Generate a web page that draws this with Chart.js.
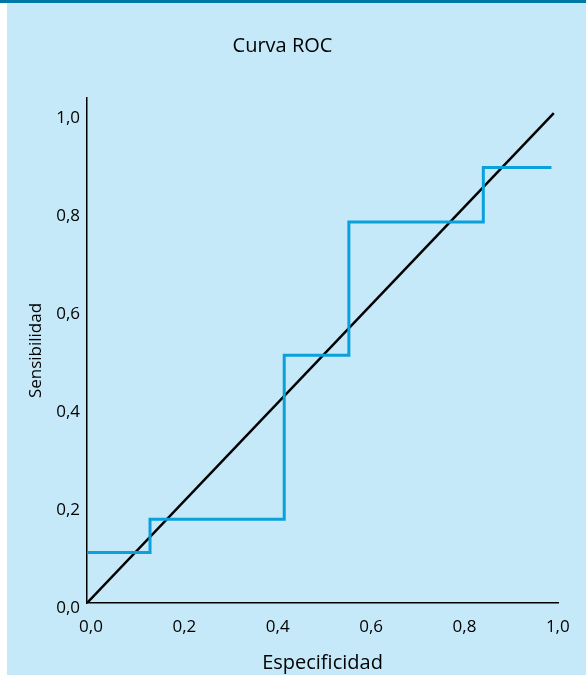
<!DOCTYPE html>
<html>
<head>
<meta charset="utf-8">
<style>
  html, body { margin: 0; padding: 0; background: #ffffff; }
  #wrap { width: 586px; height: 675px; position: relative; }
</style>
<script src="https://cdn.jsdelivr.net/npm/chart.js@4/dist/chart.umd.min.js"></script>
</head>
<body>
<div id="wrap"><canvas id="c" width="586" height="675"></canvas></div>
<script>
// ---- data ----
const rocX = [0, 0.135, 0.4225, 0.561, 0.849, 0.995];
const rocY = [0.103, 0.171, 0.506, 0.778, 0.889, 0.889];
const diagX = [0, 1];
const diagY = [0, 1];
const tickValues = [0, 0.2, 0.4, 0.6, 0.8, 1.0];
const tickLabels = ['0,0', '0,2', '0,4', '0,6', '0,8', '1,0'];
const chartTitle = 'Curva ROC';
const xTitle = 'Especificidad';
const yTitle = 'Sensibilidad';

const bgPlugin = {
  id: 'bg',
  beforeDraw(chart) {
    const ctx = chart.ctx;
    ctx.save();
    ctx.fillStyle = '#ffffff';
    ctx.fillRect(0, 0, chart.width, chart.height);
    ctx.fillStyle = '#c6e9f9';
    ctx.fillRect(7, 0, chart.width - 7, chart.height);
    ctx.fillStyle = '#0078a6';
    ctx.fillRect(0, 0, chart.width, 3);
    ctx.restore();
  }
};

const fam = "'Open Sans', 'DejaVu Sans', sans-serif";
const tickFont = { family: fam, size: 17 };

new Chart(document.getElementById('c'), {
  type: 'scatter',
  data: {
    datasets: [
      {
        data: rocX.map((x, i) => ({ x: x, y: rocY[i] })),
        showLine: true,
        stepped: 'before',
        borderColor: '#0aa0dc',
        borderWidth: 3,
        pointRadius: 0,
        fill: false
      },
      {
        data: diagX.map((x, i) => ({ x: x, y: diagY[i] })),
        showLine: true,
        borderColor: '#000000',
        borderWidth: 2.5,
        pointRadius: 0,
        fill: false
      }
    ]
  },
  options: {
    responsive: false,
    animation: false,
    events: [],
    layout: { padding: { left: 7, right: 28, top: 0, bottom: 0 } },
    plugins: {
      legend: { display: false },
      tooltip: { enabled: false },
      title: {
        display: true,
        text: chartTitle,
        color: '#000000',
        font: { family: fam, size: 20, weight: 'normal' },
        padding: { top: 34, bottom: 40 }
      }
    },
    scales: {
      x: {
        type: 'linear',
        min: 0,
        max: 1.009,
        afterBuildTicks(scale) { scale.ticks = tickValues.map(v => ({ value: v })); },
        afterFit(scale) { scale.height = 72; },
        grid: { display: false, drawTicks: false },
        border: { display: true, color: '#000000', width: 1.5 },
        ticks: {
          color: '#000000',
          font: tickFont,
          padding: 14,
          labelOffset: 4,
          maxRotation: 0,
          autoSkip: false,
          callback: (v) => { const i = tickValues.findIndex(t => Math.abs(t - v) < 1e-6); return i >= 0 ? tickLabels[i] : ''; }
        },
        title: {
          display: true,
          text: xTitle,
          color: '#000000',
          font: { family: fam, size: 20 },
          padding: { top: 0, bottom: 0 }
        }
      },
      y: {
        type: 'linear',
        min: 0,
        max: 1.031,
        afterBuildTicks(scale) { scale.ticks = tickValues.map(v => ({ value: v })); },
        afterFit(scale) { scale.width = 80; },
        grid: { display: false, drawTicks: false },
        border: { display: true, color: '#000000', width: 1.5 },
        ticks: {
          color: '#000000',
          font: tickFont,
          padding: 7,
          labelOffset: 5,
          autoSkip: false,
          callback: (v) => { const i = tickValues.findIndex(t => Math.abs(t - v) < 1e-6); return i >= 0 ? tickLabels[i] : ''; }
        },
        title: {
          display: true,
          text: yTitle,
          color: '#000000',
          font: { family: fam, size: 17 },
          padding: { top: 18.8, bottom: 0 }
        }
      }
    }
  },
  plugins: [bgPlugin]
});
</script>
</body>
</html>
